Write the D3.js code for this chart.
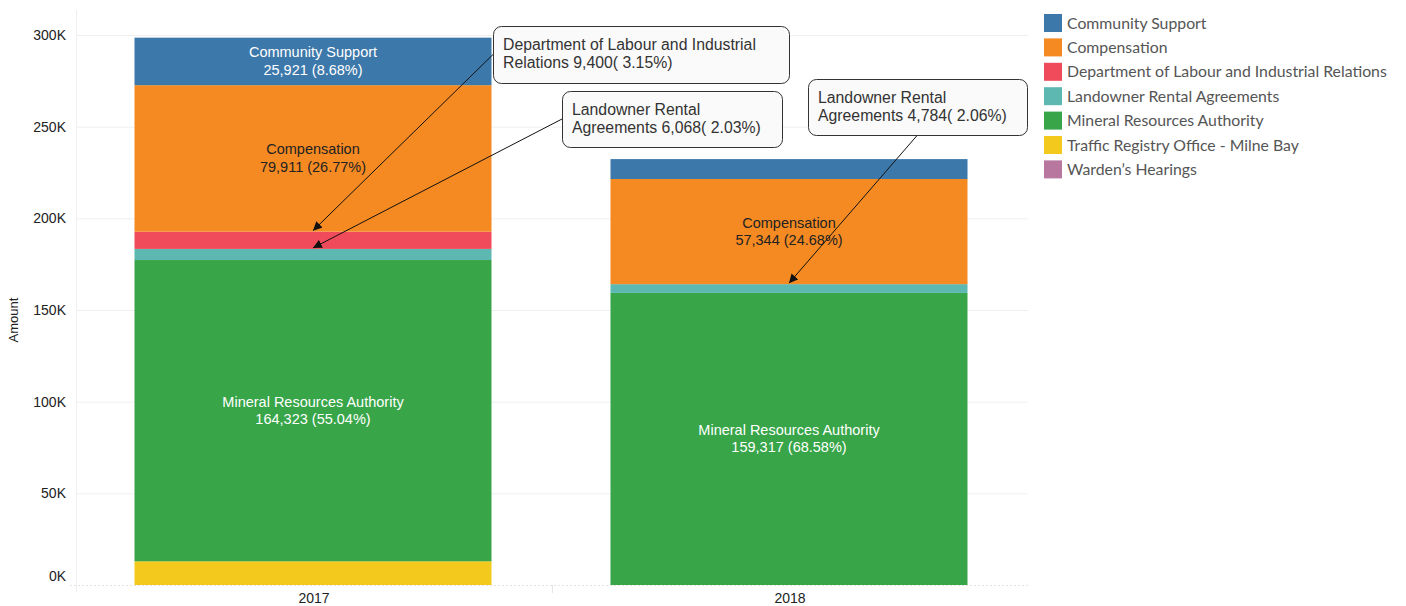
<!DOCTYPE html>
<html>
<head>
<meta charset="utf-8">
<script src="https://cdn.jsdelivr.net/npm/d3@7"></script>
<style>
  html, body { margin: 0; padding: 0; background: #fff; }
  svg { display: block; }
</style>
</head>
<body>
<svg id="chart" width="1406" height="606"></svg>
<script>
// ---------------- DATA ----------------
const years = ["2017", "2018"];
const seriesNames = [
  "Community Support",
  "Compensation",
  "Department of Labour and Industrial Relations",
  "Landowner Rental Agreements",
  "Mineral Resources Authority",
  "Traffic Registry Office - Milne Bay",
  "Warden\u2019s Hearings"
];
const seriesColors = ["#3d78aa", "#f58a22", "#ef4b5b", "#5db8b1", "#37a548", "#f2c91c", "#b7779f"];
// values per series, aligned with years
const communitySupport = [25921, 10865];
const compensation     = [79911, 57344];
const deptLabour       = [9400, 0];
const landownerRental  = [6068, 4784];
const mineralResources = [164323, 159317];
const trafficRegistry  = [12928, 0];
const wardensHearings  = [0, 0];
const yTicks = [0, 50000, 100000, 150000, 200000, 250000, 300000];

// in-bar labels: [series, year, text colour]
const barLabels = [
  ["Community Support", "2017", "#ffffff"],
  ["Compensation", "2017", "#222222"],
  ["Mineral Resources Authority", "2017", "#ffffff"],
  ["Compensation", "2018", "#222222"],
  ["Mineral Resources Authority", "2018", "#ffffff"]
];
// callout annotations
const annotations = [
  { series: "Department of Labour and Industrial Relations", year: "2017",
    lines: ["Department of Labour and Industrial", "Relations"], box: [493, 26, 296, 57], anchor: "left" },
  { series: "Landowner Rental Agreements", year: "2017",
    lines: ["Landowner Rental", "Agreements"], box: [562, 91, 220, 56], anchor: "left" },
  { series: "Landowner Rental Agreements", year: "2018",
    lines: ["Landowner Rental", "Agreements"], box: [808, 79, 219, 56], anchor: "bottom" }
];

// ---------------- BUILD TABLE ----------------
const valueArrays = [communitySupport, compensation, deptLabour, landownerRental,
                     mineralResources, trafficRegistry, wardensHearings];
const table = years.map((y, i) => {
  const row = { year: y };
  seriesNames.forEach((s, k) => row[s] = valueArrays[k][i]);
  return row;
});
const totals = {};
table.forEach(r => totals[r.year] = d3.sum(seriesNames, s => r[s]));

const stackKeys = seriesNames.slice().reverse(); // bottom: Warden's, Traffic, ...
const stacked = d3.stack().keys(stackKeys)(table);

// ---------------- SCALES ----------------
const svg = d3.select("#chart");
const plotLeft = 76, plotRight = 1028, plotTop = 35, plotBottom = 585;
const x = d3.scaleBand().domain(years).range([plotLeft, plotRight]).padding(0);
const barW = x.bandwidth() * 0.75;
const y = d3.scaleLinear().domain([0, 300000]).range([plotBottom, plotTop]);
const color = d3.scaleOrdinal().domain(seriesNames).range(seriesColors);

const fmt = d3.format(",");
const pct = d3.format(".2%");

// ---------------- GRID & AXES ----------------
const grid = svg.append("g");
grid.selectAll("line.h").data(yTicks.filter(t => t > 0)).join("line")
  .attr("x1", plotLeft).attr("x2", plotRight)
  .attr("y1", d => y(d) + 0.5).attr("y2", d => y(d) + 0.5)
  .attr("stroke", "#efefef").attr("stroke-width", 1);
grid.append("line")
  .attr("x1", plotLeft + 0.5).attr("x2", plotLeft + 0.5)
  .attr("y1", 10).attr("y2", 592)
  .attr("stroke", "#efefef");

const yAxis = svg.append("g")
  .attr("transform", `translate(${plotLeft - 10},0)`)
  .call(d3.axisLeft(y).tickValues(yTicks).tickSize(0).tickPadding(0)
    .tickFormat(d => (d / 1000) + "K"));
yAxis.select(".domain").remove();
yAxis.selectAll("text")
  .attr("font-family", "Liberation Sans, Arial, sans-serif")
  .attr("font-size", 14).attr("fill", "#222")
  .attr("y", d => d === 0 ? -9 : 0);

svg.append("text")
  .attr("transform", `translate(18,${(plotTop + plotBottom) / 2 + 10}) rotate(-90)`)
  .attr("text-anchor", "middle")
  .attr("font-family", "Liberation Sans, Arial, sans-serif")
  .attr("font-size", 13).attr("fill", "#222")
  .text("Amount");

const xAxis = svg.append("g")
  .attr("transform", `translate(0,${plotBottom})`)
  .call(d3.axisBottom(x).tickSize(0).tickPadding(8));
xAxis.select(".domain").remove();
xAxis.selectAll("text")
  .attr("font-family", "Liberation Sans, Arial, sans-serif")
  .attr("font-size", 14).attr("fill", "#222");
// divider between categories
svg.append("line")
  .attr("x1", x("2018") + 0.5).attr("x2", x("2018") + 0.5)
  .attr("y1", plotBottom).attr("y2", plotBottom + 8)
  .attr("stroke", "#e6e6e6");

// ---------------- BARS ----------------
svg.append("g").selectAll("g").data(stacked).join("g")
  .attr("fill", d => color(d.key))
  .selectAll("rect").data(d => d).join("rect")
  .attr("x", d => x(d.data.year) + (x.bandwidth() - barW) / 2 - 1)
  .attr("width", barW)
  .attr("y", d => y(d[1]))
  .attr("height", d => Math.max(0, y(d[0]) - y(d[1])));

// zero baseline (dotted)
svg.append("line")
  .attr("x1", plotLeft - 6).attr("x2", plotRight)
  .attr("y1", plotBottom + 0.5).attr("y2", plotBottom + 0.5)
  .attr("stroke", "#e3e3e3").attr("stroke-dasharray", "2,2");

function seg(series, year) {
  const layer = stacked.find(l => l.key === series);
  return layer[years.indexOf(year)];
}

// ---------------- IN-BAR LABELS ----------------
const lblG = svg.append("g")
  .attr("font-family", "Liberation Sans, Arial, sans-serif")
  .attr("font-size", 14.5).attr("text-anchor", "middle");
barLabels.forEach(([s, yr, c]) => {
  const d = seg(s, yr);
  const cy = (y(d[0]) + y(d[1])) / 2;
  const v = d[1] - d[0];
  const cx = x(yr) + x.bandwidth() / 2 - 1;
  const t = lblG.append("text")
    .attr("x", cx)
    .attr("y", cy - 4)
    .attr("fill", c);
  t.append("tspan").attr("x", cx).text(s);
  t.append("tspan").attr("x", cx).attr("dy", 17.5)
    .text(`${fmt(v)} (${pct(v / totals[yr])})`);
});

// ---------------- ANNOTATIONS ----------------
const defs = svg.append("defs");
defs.append("marker").attr("id", "arrow")
  .attr("viewBox", "0 0 10 10").attr("refX", 10).attr("refY", 5)
  .attr("markerWidth", 9).attr("markerHeight", 9).attr("orient", "auto-start-reverse")
  .attr("markerUnits", "userSpaceOnUse")
  .append("path").attr("d", "M0,0 L10,5 L0,10 z").attr("fill", "#111");

const annG = svg.append("g");
annotations.forEach(a => {
  const d = seg(a.series, a.year);
  const v = d[1] - d[0];
  const tx = x(a.year) + x.bandwidth() / 2 - 1;
  const ty = y(d[1]);
  const [bx, by, bw, bh] = a.box;
  const sx = a.anchor === "left" ? bx : bx + bw / 2;
  const sy = a.anchor === "left" ? by + bh / 2 : by + bh;
  annG.append("line")
    .attr("x1", sx).attr("y1", sy).attr("x2", tx).attr("y2", ty - 1)
    .attr("stroke", "#111").attr("stroke-width", 1)
    .attr("marker-end", "url(#arrow)");
  annG.append("rect")
    .attr("x", bx + 0.5).attr("y", by + 0.5).attr("width", bw).attr("height", bh)
    .attr("rx", 8).attr("ry", 8)
    .attr("fill", "#fafafa").attr("stroke", "#333").attr("stroke-width", 1);
  const lines = a.lines.slice();
  lines[lines.length - 1] += ` ${fmt(v)}( ${pct(v / totals[a.year])})`;
  const t = annG.append("text")
    .attr("font-family", "Liberation Sans, Arial, sans-serif")
    .attr("font-size", 15.8).attr("fill", "#333");
  lines.forEach((ln, i) => {
    t.append("tspan").attr("x", bx + 10).attr("y", by + 24 + i * 18).text(ln);
  });
});

// ---------------- LEGEND ----------------
const leg = svg.append("g").attr("transform", "translate(1044,14)");
const items = leg.selectAll("g").data(seriesNames).join("g")
  .attr("transform", (d, i) => `translate(0,${i * 24.4})`);
items.append("rect").attr("width", 18).attr("height", 18).attr("fill", d => color(d));
items.append("text")
  .attr("x", 23).attr("y", 14.5)
  .attr("font-family", "Lato, sans-serif").attr("font-size", 15.8)
  .attr("fill", "#555")
  .text(d => d);
</script>
</body>
</html>
